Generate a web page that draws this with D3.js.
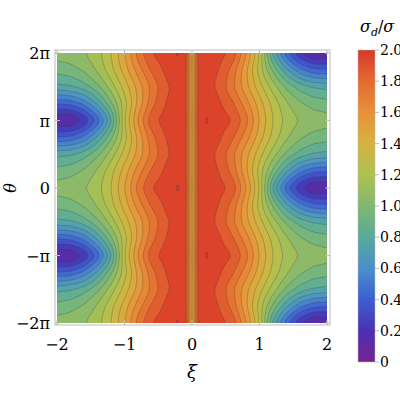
<!DOCTYPE html>
<html>
<head>
<meta charset="utf-8">
<script src="https://d3js.org/d3.v7.min.js"></script>
<style>
body { margin: 0; background: #fff; }
svg text { font-family: "DejaVu Serif", "Liberation Serif", serif; }
</style>
</head>
<body>
<svg id="chart" width="400" height="400"></svg>
<script>
// sampled values of sigma_d/sigma for xi >= 0 (left half follows v(-xi, th) = v(xi, th + pi))
var xiCols = [0, 0.1, 0.2, 0.3, 0.4, 0.6, 0.8, 1.0, 1.2, 1.4, 1.6, 1.8, 2.0];
var thetaRows = ["0", "pi/4", "pi/2", "3pi/4", "pi"];
var row0    = [1.45, 1.95, 1.97, 1.96, 1.94, 1.88, 1.62, 1.30, 0.75, 0.40, 0.18, 0.06, 0.10];
var rowQ1   = [1.45, 1.94, 1.95, 1.93, 1.90, 1.76, 1.52, 1.25, 0.98, 0.72, 0.52, 0.42, 0.40];
var rowHalf = [1.45, 1.93, 1.93, 1.91, 1.87, 1.72, 1.53, 1.34, 1.15, 0.98, 0.86, 0.80, 0.78];
var rowQ3   = [1.45, 1.95, 1.98, 1.96, 1.92, 1.82, 1.65, 1.45, 1.27, 1.12, 1.02, 0.96, 0.94];
var rowPi   = [1.45, 1.96, 2.02, 1.99, 1.95, 1.91, 1.75, 1.50, 1.30, 1.17, 1.10, 1.07, 1.05];
var rows = [row0, rowQ1, rowHalf, rowQ3, rowPi];

var colorTicks = [0, 0.2, 0.4, 0.6, 0.8, 1.0, 1.2, 1.4, 1.6, 1.8, 2.0];
var colorStops = ["#782493", "#4b30b0", "#3c5ed0", "#4a8fcb", "#58aa9c", "#80b872", "#aec150", "#d6b23f", "#e8913a", "#e46a30", "#d8382a"];
var yTicks = [-2, -1, 0, 1, 2];
var yTickLabels = ["\u22122\u03c0", "\u2212\u03c0", "0", "\u03c0", "2\u03c0"];
var xTicks = [-2, -1, 0, 1, 2];

var svg = d3.select("#chart");
var x = d3.scaleLinear().domain([-2, 2]).range([57, 327]);
var y = d3.scaleLinear().domain([-2, 2]).range([323, 53]); // in units of pi
var color = d3.scaleLinear().domain(colorTicks).range(colorStops).clamp(true);

// lookup sampled table (bilinear between stored samples)
function sample(xi, th) { // th in units of pi
  if (xi < 0) { xi = -xi; th = th + 1; }
  th = ((th % 2) + 2) % 2;
  if (th > 1) th = 2 - th;
  var r = th * 4, r0 = Math.min(3, Math.floor(r)), tr = r - r0;
  var c0 = 0;
  while (c0 < xiCols.length - 2 && xi > xiCols[c0 + 1]) c0++;
  var tc = (xi - xiCols[c0]) / (xiCols[c0 + 1] - xiCols[c0]);
  var a = rows[r0][c0] * (1 - tc) + rows[r0][c0 + 1] * tc;
  var b = rows[r0 + 1][c0] * (1 - tc) + rows[r0 + 1][c0 + 1] * tc;
  return a * (1 - tr) + b * tr;
}

var n = 161, m = 161;
var grid = new Array(n * m);
for (var j = 0; j < m; j++) {
  for (var i = 0; i < n; i++) {
    var xi = -2 + 4 * i / (n - 1);
    var th = 2 - 4 * j / (m - 1);
    grid[j * n + i] = sample(xi, th);
  }
}
// smoothing along theta (periodic) and lightly along xi away from the centre strip
var sm = grid.slice();
for (var pass = 0; pass < 8; pass++) {
  var tmp = sm.slice();
  for (var j = 0; j < m; j++) for (var i = 0; i < n; i++) {
    var s = 0;
    for (var dj = -1; dj <= 1; dj++) {
      var jj = (j + dj + (m - 1)) % (m - 1);
      s += tmp[jj * n + i];
    }
    sm[j * n + i] = s / 3;
  }
}
for (var pass = 0; pass < 3; pass++) {
  var tmp = sm.slice();
  for (var j = 0; j < m; j++) for (var i = 1; i < n - 1; i++) {
    if (Math.abs(i - (n - 1) / 2) < 6) continue;
    sm[j * n + i] = (tmp[j * n + i - 1] + tmp[j * n + i] + tmp[j * n + i + 1]) / 3;
  }
}

var thresholds = d3.range(0, 2.11, 0.1);
var contours = d3.contours().size([n, m]).thresholds(thresholds)(sm);
var sx = 270 / (n - 1), sy = 270 / (m - 1);
var proj = d3.geoTransform({ point: function(px, py) {
  this.stream.point(57 + (px - 0.5) * sx, 53 + (py - 0.5) * sy);
}});
var path = d3.geoPath(proj);

svg.append("clipPath").attr("id", "clip").append("rect")
  .attr("x", 57).attr("y", 53).attr("width", 270).attr("height", 270);
var g = svg.append("g").attr("clip-path", "url(#clip)");
g.append("rect").attr("x", 57).attr("y", 53).attr("width", 270).attr("height", 270)
  .attr("fill", color(0.05));
g.selectAll("path.band").data(contours).enter().append("path")
  .attr("d", path)
  .attr("fill", function(d) { return color(d.value + 0.05); })
  .attr("stroke", "#333").attr("stroke-opacity", 0.45).attr("stroke-width", 0.6);

// frame
svg.append("rect").attr("x", 55).attr("y", 50).attr("width", 275).attr("height", 275)
  .attr("fill", "none").attr("stroke", "#bbb").attr("stroke-width", 1);

// axes
yTicks.forEach(function(t, k) {
  svg.append("line").attr("x1", 55).attr("x2", 60).attr("y1", y(t)).attr("y2", y(t)).attr("stroke", "#bbb");
  svg.append("line").attr("x1", 325).attr("x2", 330).attr("y1", y(t)).attr("y2", y(t)).attr("stroke", "#bbb");
  svg.append("text").attr("x", 50).attr("y", y(t) + 6).attr("text-anchor", "end")
    .attr("font-size", 16).text(yTickLabels[k]);
});
xTicks.forEach(function(t) {
  svg.append("line").attr("x1", x(t)).attr("x2", x(t)).attr("y1", 325).attr("y2", 320).attr("stroke", "#bbb");
  svg.append("line").attr("x1", x(t)).attr("x2", x(t)).attr("y1", 50).attr("y2", 55).attr("stroke", "#bbb");
  svg.append("text").attr("x", x(t)).attr("y", 350).attr("text-anchor", "middle")
    .attr("font-size", 16).text(t < 0 ? "\u2212" + (-t) : t);
});
svg.append("text").attr("x", 192).attr("y", 378).attr("text-anchor", "middle")
  .attr("font-size", 18).attr("font-style", "italic").text("\u03be");
svg.append("text").attr("transform", "translate(16,188) rotate(-90)").attr("text-anchor", "middle")
  .attr("font-size", 16).attr("font-style", "italic").text("\u03b8");

// colorbar
var cy = d3.scaleLinear().domain([0, 2]).range([362, 50]);
var defs = svg.append("defs");
var grad = defs.append("linearGradient").attr("id", "cb").attr("x1", 0).attr("x2", 0).attr("y1", 1).attr("y2", 0);
colorTicks.forEach(function(t, k) {
  grad.append("stop").attr("offset", t / 2).attr("stop-color", colorStops[k]);
});
svg.append("rect").attr("x", 358).attr("y", 50).attr("width", 17).attr("height", 312)
  .attr("fill", "url(#cb)").attr("stroke", "#bbb").attr("stroke-width", 0.5);
colorTicks.forEach(function(t) {
  svg.append("line").attr("x1", 375).attr("x2", 379).attr("y1", cy(t)).attr("y2", cy(t)).attr("stroke", "#bbb");
  svg.append("text").attr("x", 380).attr("y", cy(t) + 5).attr("font-size", 14)
    .text(t === 0 ? "0" : t.toFixed(1));
});
var title = svg.append("text").attr("x", 360).attr("y", 32).attr("font-size", 16).attr("font-style", "italic");
title.append("tspan").text("\u03c3");
title.append("tspan").attr("dy", 4).attr("font-size", 11).text("d");
title.append("tspan").attr("dy", -4).attr("font-style", "normal").text("/");
title.append("tspan").text("\u03c3");
</script>
</body>
</html>
